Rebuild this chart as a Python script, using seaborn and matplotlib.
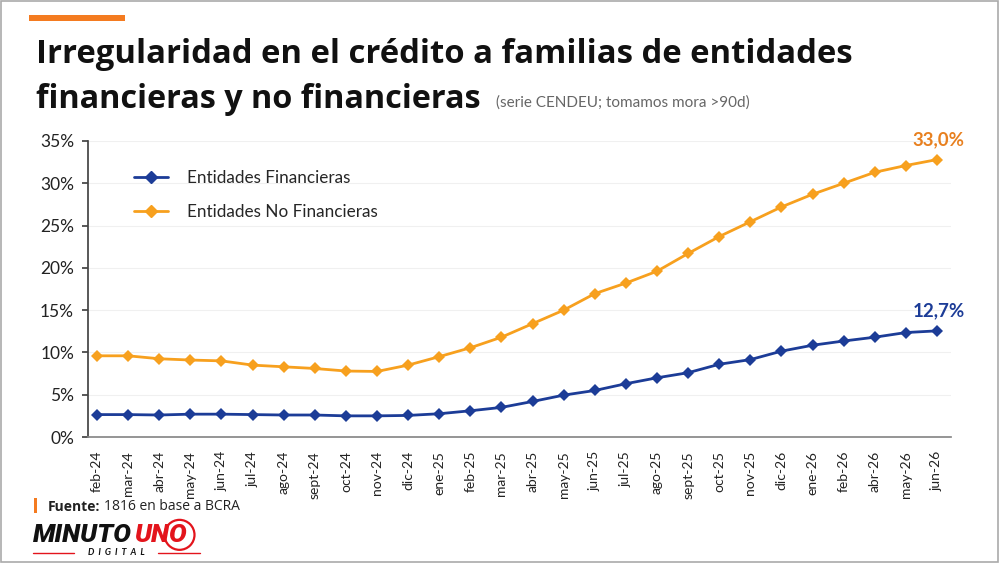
import pandas as pd
import numpy as np
import matplotlib.pyplot as plt
import seaborn as sns
from matplotlib.patches import Rectangle, Ellipse
from matplotlib.lines import Line2D

meses = ['feb-24', 'mar-24', 'abr-24', 'may-24', 'jun-24', 'jul-24', 'ago-24',
         'sept-24', 'oct-24', 'nov-24', 'dic-24', 'ene-25', 'feb-25', 'mar-25',
         'abr-25', 'may-25', 'jun-25', 'jul-25', 'ago-25', 'sept-25', 'oct-25',
         'nov-25', 'dic-26', 'ene-26', 'feb-26', 'abr-26', 'may-26', 'jun-26']

financieras = [2.65, 2.65, 2.6, 2.7, 2.7, 2.65, 2.6, 2.6, 2.5, 2.5, 2.55, 2.75,
               3.1, 3.5, 4.2, 4.95, 5.5, 6.3, 7.0, 7.6, 8.6, 9.15, 10.15, 10.85,
               11.35, 11.8, 12.35, 12.55]

no_financieras = [9.6, 9.6, 9.25, 9.1, 9.0, 8.5, 8.3, 8.1, 7.8, 7.75, 8.5, 9.5,
                  10.55, 11.8, 13.4, 15.0, 16.95, 18.2, 19.6, 21.7, 23.7, 25.45,
                  27.2, 28.7, 30.0, 31.3, 32.1, 32.8]

series = ['Entidades Financieras', 'Entidades No Financieras']
etiquetas_final = ['12,7%', '33,0%']

azul = '#1c3c97'
naranja = '#f7a01e'
naranja_txt = '#e8801f'
rojo = '#e3141c'

df = pd.DataFrame({
    'mes': meses * 2,
    'idx': list(range(len(meses))) * 2,
    'valor': financieras + no_financieras,
    'serie': [series[0]] * len(meses) + [series[1]] * len(meses),
})

sns.set_theme(style='white')
plt.rcParams['font.family'] = ['Lato', 'DejaVu Sans']

fig = plt.figure(figsize=(10, 5.63), dpi=100)
fig.patch.set_facecolor('white')
ax = fig.add_axes([0.088, 0.2238, 0.863, 0.5258])

sns.lineplot(data=df, x='idx', y='valor', hue='serie', palette=[azul, naranja],
             marker='D', markersize=6.5, markeredgewidth=0, linewidth=2,
             ax=ax, legend=False)

ax.set_xlim(-0.29, 27.45)
ax.set_ylim(0, 35)
ax.set_yticks(range(0, 36, 5))
ax.set_yticklabels([f'{v}%' for v in range(0, 36, 5)], fontsize=12.5, color='#222222')
ax.set_xticks(range(len(meses)))
ax.set_xticklabels(meses, rotation=90, fontsize=10, color='#222222')
ax.set_xlabel('')
ax.set_ylabel('')
ax.grid(axis='y', color='#f0f0f0', linewidth=0.8)
for s in ['top', 'right']:
    ax.spines[s].set_visible(False)
ax.spines['left'].set_color('#444444')
ax.spines['bottom'].set_color('#888888')
ax.tick_params(axis='y', left=True, length=4, color='#444444', pad=6)
ax.tick_params(axis='x', bottom=False, pad=4)

# etiquetas finales
ax.annotate(etiquetas_final[1], (len(meses) - 1, no_financieras[-1]),
            xytext=(1, 8), textcoords='offset points', ha='center', va='bottom',
            fontsize=13.5, fontweight='bold', color=naranja_txt)
ax.annotate(etiquetas_final[0], (len(meses) - 1, financieras[-1]),
            xytext=(1, 8), textcoords='offset points', ha='center', va='bottom',
            fontsize=13.5, fontweight='bold', color=azul)

handles = [Line2D([0], [0], color=azul, marker='D', markersize=6.5, lw=2),
           Line2D([0], [0], color=naranja, marker='D', markersize=6.5, lw=2)]
ax.legend(handles, series, loc='upper left', bbox_to_anchor=(0.035, 0.955),
          frameon=False, fontsize=12.3, handlelength=2.0, labelspacing=1.05,
          handletextpad=1.1)

# encabezado
fig.add_artist(Rectangle((0.029, 0.962), 0.096, 0.011, transform=fig.transFigure,
                         color='#f47b20', lw=0))
fig.text(0.036, 0.903, 'Irregularidad en el crédito a familias de entidades',
         fontsize=23.7, fontweight='bold', color='#111111', va='center',
         family=['Open Sans', 'DejaVu Sans'])
fig.text(0.036, 0.823, 'financieras y no financieras',
         fontsize=23.3, fontweight='bold', color='#111111', va='center',
         family=['Open Sans', 'DejaVu Sans'])
fig.text(0.496, 0.818, '(serie CENDEU; tomamos mora >90d)',
         fontsize=11, color='#666666', va='center')

renderer = fig.canvas.get_renderer()

# fuente
fig.add_artist(Rectangle((0.034, 0.088), 0.0025, 0.027, transform=fig.transFigure,
                         color='#f47b20', lw=0))
t = fig.text(0.048, 0.1, 'Fuente:', fontsize=10, fontweight='bold',
             color='#222222', va='center', family=['Open Sans', 'DejaVu Sans'])
x1 = t.get_window_extent(renderer).x1 / fig.bbox.width
fig.text(x1 + 0.004, 0.1, '1816 en base a BCRA', fontsize=10,
         color='#222222', va='center', family=['Open Sans', 'DejaVu Sans'])

# logo
t = fig.text(0.033, 0.05, 'MINUTO', fontsize=19, fontweight='black', style='italic',
             color='#111111', va='center', family=['Roboto', 'DejaVu Sans'])
x1 = t.get_window_extent(renderer).x1 / fig.bbox.width
t2 = fig.text(x1 + 0.002, 0.05, 'UNO', fontsize=19, fontweight='black', style='italic',
              color=rojo, va='center', family=['Roboto', 'DejaVu Sans'])
x2 = t2.get_window_extent(renderer).x1 / fig.bbox.width
fig.add_artist(Ellipse((x2 - 0.007, 0.05), 0.03, 0.03 * 1000 / 563,
                       transform=fig.transFigure, fill=False, ec=rojo, lw=1.6))
fig.text(0.116, 0.018, 'D  I  G  I  T  A  L', fontsize=6.5, style='italic',
         color='#111111', va='center', ha='center', fontweight='bold')
fig.add_artist(Line2D([0.033, 0.074], [0.018, 0.018], transform=fig.transFigure,
                      color=rojo, lw=1))
fig.add_artist(Line2D([0.158, 0.2], [0.018, 0.018], transform=fig.transFigure,
                      color=rojo, lw=1))

# marco
fig.add_artist(Rectangle((0.001, 0.001), 0.997, 0.997, transform=fig.transFigure,
                         fill=False, ec='#aaaaaa', lw=1.2))

fig.savefig('out.png', dpi=100)
